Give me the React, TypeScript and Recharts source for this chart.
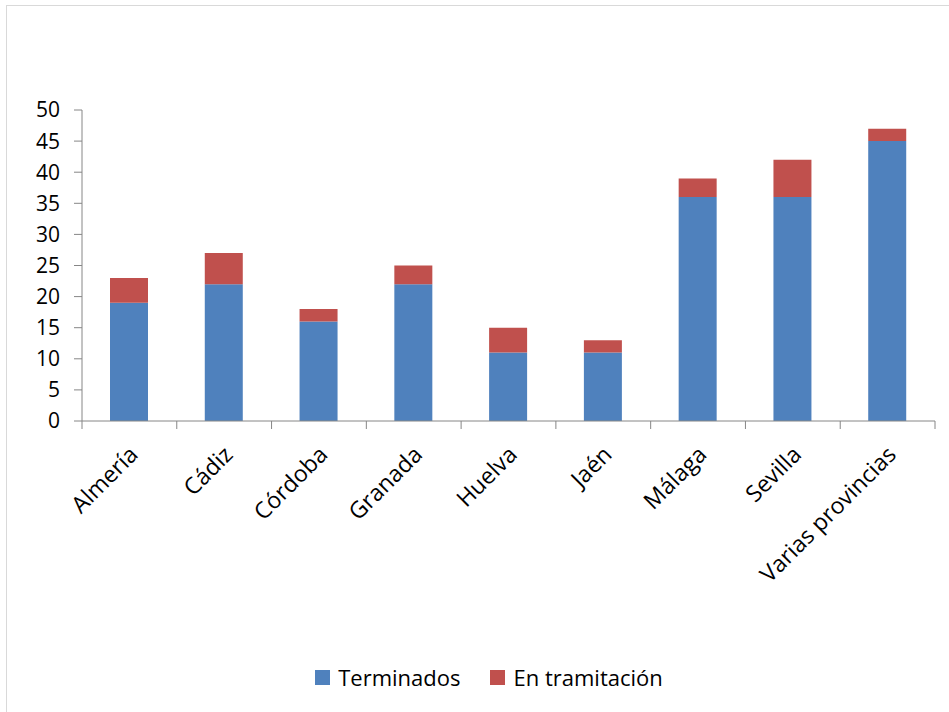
import { BarChart, Bar, XAxis, YAxis } from 'recharts';

const provincias = ['Almería', 'Cádiz', 'Córdoba', 'Granada', 'Huelva', 'Jaén', 'Málaga', 'Sevilla', 'Varias provincias'];
const terminados = [19, 22, 16, 22, 11, 11, 36, 36, 45];
const enTramitacion = [4, 5, 2, 3, 4, 2, 3, 6, 2];
const yTicks = [0, 5, 10, 15, 20, 25, 30, 35, 40, 45, 50];

const series = [
  { key: 'terminados', name: 'Terminados', color: '#4F81BD' },
  { key: 'enTramitacion', name: 'En tramitación', color: '#C0504D' },
];

const data = provincias.map((p, i) => ({
  provincia: p,
  terminados: terminados[i],
  enTramitacion: enTramitacion[i],
}));

const FONT = '"Open Sans", sans-serif';
const AXIS = '#868686';

function CategoryTick(props: any) {
  const { x, y, payload, index, width } = props;
  const band = width / provincias.length;
  const last = index === provincias.length - 1;
  const tx = x + 10;
  const ty = y + 27;
  return (
    <g>
      <line x1={x - band / 2} x2={x - band / 2} y1={y - 8} y2={y} stroke={AXIS} />
      {last && <line x1={x + band / 2} x2={x + band / 2} y1={y - 8} y2={y} stroke={AXIS} />}
      <text
        x={tx}
        y={ty}
        textAnchor="end"
        transform={`rotate(-45, ${tx}, ${ty})`}
        fontFamily={FONT}
        fontSize={23}
        fill="#000"
      >
        {payload.value}
      </text>
    </g>
  );
}

function Legenda() {
  return (
    <div
      style={{
        position: 'absolute',
        left: 0,
        top: 656,
        width: 964,
        display: 'flex',
        justifyContent: 'center',
        fontFamily: FONT,
        fontSize: 22,
        color: '#000',
        pointerEvents: 'none',
      }}
    >
      {series.map((s, i) => (
        <div key={s.key} style={{ display: 'flex', alignItems: 'center', marginLeft: i ? 30 : 0 }}>
          <span style={{ width: 15, height: 15, background: s.color, marginRight: 8, display: 'inline-block' }} />
          <span>{s.name}</span>
        </div>
      ))}
    </div>
  );
}

export default function App() {
  return (
    <div
      style={{
        position: 'absolute',
        left: 6,
        top: 5,
        width: 942,
        height: 706,
        borderLeft: '1px solid #d9d9d9',
        borderTop: '1px solid #d9d9d9',
        background: '#fff',
        overflow: 'hidden',
      }}
    >
      <BarChart
        width={942}
        height={706}
        data={data}
        margin={{ top: 104, right: 14, left: 0, bottom: 0 }}
        barSize={38}
      >
        <XAxis
          dataKey="provincia"
          height={291}
          stroke={AXIS}
          tickLine={false}
          tickSize={8}
          tickMargin={0}
          interval={0}
          tick={<CategoryTick />}
        />
        <YAxis
          width={75}
          domain={[0, 50]}
          ticks={yTicks}
          interval={0}
          stroke={AXIS}
          tickSize={8}
          tickMargin={14}
          tick={{ fill: '#000', fontFamily: FONT, fontSize: 21 }}
        />
        {series.map((s) => (
          <Bar key={s.key} dataKey={s.key} name={s.name} stackId="a" fill={s.color} isAnimationActive={false} />
        ))}
      </BarChart>
      <Legenda />
    </div>
  );
}
